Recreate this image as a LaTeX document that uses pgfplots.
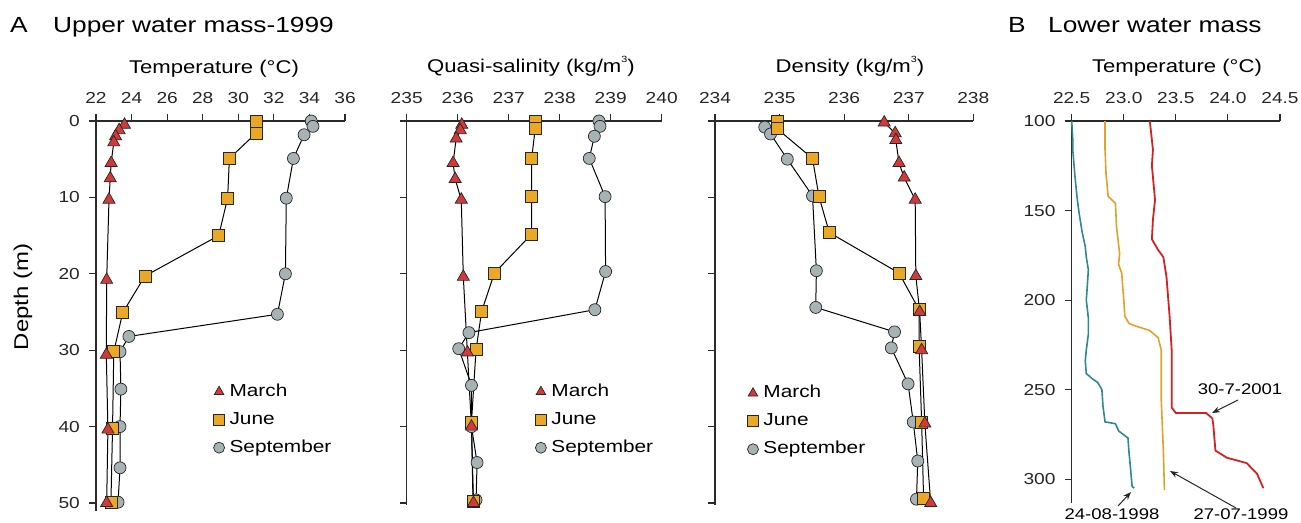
\documentclass[border=0pt]{standalone}
\usepackage{fontspec}
\setmainfont{Liberation Sans}[FakeStretch=1.2]
\usepackage{pgfplots}
\pgfplotsset{compat=1.18}
\usetikzlibrary{arrows.meta}
\definecolor{cMar}{HTML}{D03A3A}
\definecolor{cJun}{HTML}{EAA825}
\definecolor{cSep}{HTML}{A6B2B4}
\definecolor{cTeal}{HTML}{2E8A8C}
\definecolor{cOra}{HTML}{E2A12B}
\definecolor{cRed}{HTML}{D32222}
\definecolor{axcol}{HTML}{2A2A2A}
\newcommand{\tickfont}{\fontsize{16}{16}\selectfont}
\newcommand{\labfont}{\fontsize{18.5}{20}\selectfont}
\newcommand{\legfont}{\fontsize{17.4}{18}\selectfont}
\newcommand{\titfont}{\fontsize{22}{24}\selectfont}
\newcommand{\annfont}{\fontsize{15.5}{16}\selectfont}
\newcommand{\cube}{\raisebox{1.1ex}{\fontsize{9}{9}\selectfont 3}}

\pgfplotsset{
  prof/.style={
    scale only axis,
    anchor=north west,
    y dir=reverse,
    axis x line=top,
    axis y line=left,
    axis line style={-, line width=1.3bp, draw=axcol},
    x axis line style={-},
    y axis line style={-},
    tick style={line width=1.1bp, draw=axcol},
    tick align=outside,
    major tick length=7bp,
    enlargelimits=false,
    clip=false,
    /pgf/number format/assume math mode=true,
    tick label style={font=\tickfont, text=black!85},
    xticklabel style={inner sep=0pt, anchor=south},
    xticklabel shift=10bp,
    yticklabel style={inner sep=0pt, anchor=east},
    yticklabel shift=9bp,
    ytick={0,10,20,30,40,50},
    legend cell align=left,
    reverse legend,
    legend image code/.code={\draw[##1, only marks, mark size=5.5bp] plot coordinates {(0bp,0bp)};},
    legend style={draw=none, fill=none, font=\legfont, anchor=west,
      inner sep=0pt, row sep=9bp, column sep=4bp,
      nodes={inner sep=1bp, text height=13bp, text depth=4bp}},
  },
  pM/.style={black, line width=1bp, mark=triangle*, mark size=7bp,
    mark options={fill=cMar, draw=black!85, line width=0.7bp}},
  pJ/.style={black, line width=1bp, mark=square*, mark size=6bp,
    mark options={fill=cJun, draw=black!85, line width=0.7bp}},
  pS/.style={black, line width=1bp, mark=*, mark size=6bp,
    mark options={fill=cSep, draw=black!85, line width=0.7bp}},
}

\begin{document}
\begin{tikzpicture}
\path[use as bounding box] (0bp,0bp) rectangle (1301bp,523bp);

% ---------- Temperature ----------
\begin{axis}[prof, at={(96bp,402bp)}, width=249bp, height=389.6bp,
  xmin=22, xmax=36, ymin=0, ymax=51, xtick={22,24,...,36},
  legend style={at={(axis cs:28.6,39.1)}}]
\addplot[pS] coordinates {(34.1,0)(34.2,0.7)(33.7,1.8)(33.1,4.9)(32.7,10.1)(32.65,20)(32.2,25.3)(23.85,28.2)(23.35,30.2)(23.4,35.1)(23.35,40)(23.35,45.4)(23.24,49.9)};
\addlegendentry{September}
\addplot[pJ] coordinates {(31.0,0.1)(31.0,1.6)(29.5,4.9)(29.4,10.1)(28.9,15.0)(24.75,20.3)(23.5,25.1)(23.0,30.2)(22.93,40.2)(22.84,49.9)};
\addlegendentry{June}
\addplot[pM] coordinates {(23.6,0.5)(23.3,1.2)(23.1,2.0)(23.0,2.8)(22.85,5.5)(22.8,7.5)(22.73,10.3)(22.6,20.8)(22.58,30.6)(22.67,40.4)(22.6,50)};
\addlegendentry{March}
\end{axis}

% ---------- Quasi-salinity ----------
\begin{axis}[prof, at={(406.7bp,402bp)}, width=255bp, height=384.3bp,
  xmin=235, xmax=240, ymin=0, ymax=50.3, xtick={235,236,...,240}, yticklabels={},
  legend style={at={(axis cs:237.52,39.1)}}]
\addplot[pS] coordinates {(238.77,0)(238.79,0.7)(238.68,2)(238.58,4.9)(238.89,9.9)(238.9,19.7)(238.69,24.7)(236.22,27.7)(236.02,29.8)(236.27,34.6)(236.27,40)(236.38,44.7)(236.36,49.6)};
\addlegendentry{September}
\addplot[pJ] coordinates {(237.52,0)(237.52,1)(237.45,4.9)(237.45,9.9)(237.45,14.8)(236.72,19.9)(236.47,24.9)(236.36,29.9)(236.27,39.4)(236.3,49.8)};
\addlegendentry{June}
\addplot[pM] coordinates {(236.08,0.5)(236.05,1.2)(235.97,2.3)(235.91,5.5)(235.95,7.6)(236.07,10.3)(236.11,20.4)(236.19,30.3)(236.27,40)(236.31,50)};
\addlegendentry{March}
\end{axis}

% ---------- Density ----------
\begin{axis}[prof, at={(715bp,402bp)}, width=258.3bp, height=384.3bp,
  xmin=234, xmax=238, ymin=0, ymax=50.3, xtick={234,235,...,238}, yticklabels={},
  legend style={at={(axis cs:234.5,39.3)}}]
\addplot[pS] coordinates {(234.77,0.8)(234.86,1.7)(235.12,5)(235.51,9.8)(235.57,19.6)(235.56,24.4)(236.78,27.6)(236.73,29.7)(236.99,34.4)(237.07,39.4)(237.14,44.5)(237.12,49.5)};
\addlegendentry{September}
\addplot[pJ] coordinates {(234.96,0.1)(234.96,1)(235.51,4.9)(235.61,9.9)(235.77,14.6)(236.85,19.9)(237.16,24.7)(237.16,29.5)(237.2,39.4)(237.23,49.4)};
\addlegendentry{June}
\addplot[pM] coordinates {(236.62,0.2)(236.79,1.6)(236.8,2.5)(236.85,5.5)(236.93,7.4)(237.1,10.3)(237.11,20.3)(237.17,25)(237.2,30)(237.25,39.6)(237.34,50)};
\addlegendentry{March}
\end{axis}

% ---------- Panel B ----------
\begin{axis}[prof, at={(1071.7bp,402bp)}, width=208.3bp, height=381.5bp,
  xmin=22.5, xmax=24.5, ymin=100, ymax=313,
  xtick={22.5,23,23.5,24,24.5}, ytick={100,150,200,250,300},
  xticklabel style={/pgf/number format/.cd, fixed, fixed zerofill, precision=1}]
\addplot[cTeal, line width=1.6bp] coordinates {(22.5,100)(22.51,110)(22.51,116)(22.53,130)(22.55,142)(22.57,151)(22.6,162)(22.63,170)(22.64,176)(22.66,183)(22.65,192)(22.64,200)(22.66,210)(22.66,219)(22.64,228)(22.63,234)(22.64,241)(22.7,244)(22.75,246)(22.79,250)(22.8,259)(22.82,268)(22.92,269)(22.95,273)(23.04,277)(23.05,285)(23.06,291)(23.08,304)(23.1,305)};
\addplot[cOra, line width=1.6bp] coordinates {(22.82,100)(22.82,116)(22.83,130)(22.85,142)(22.92,146)(22.93,159)(22.96,174)(22.95,180)(22.98,185)(23.0,200)(23.01,209)(23.05,213)(23.09,214)(23.25,217)(23.33,221)(23.36,228)(23.36,256)(23.37,270)(23.38,284)(23.39,306)};
\addplot[cRed, line width=1.8bp] coordinates {(23.25,100)(23.28,116)(23.27,125)(23.3,144)(23.28,155)(23.27,166)(23.33,172)(23.38,176)(23.41,187)(23.44,209)(23.46,228)(23.46,260)(23.5,263)(23.79,263)(23.85,266)(23.86,270)(23.88,284)(23.99,288)(24.18,291)(24.28,297)(24.34,305)};
\end{axis}

% ---------- texts ----------
\node[font=\titfont, anchor=base west, inner sep=0pt] at (10bp,490bp) {A};
\node[font=\titfont, anchor=base west, inner sep=0pt] at (53bp,490bp) {Upper water mass-1999};
\node[font=\titfont, anchor=base west, inner sep=0pt] at (1008bp,490bp) {B};
\node[font=\titfont, anchor=base west, inner sep=0pt] at (1048bp,490bp) {Lower water mass};
\node[font=\labfont, anchor=base, inner sep=0pt] at (214bp,449bp) {Temperature (°C)};
\node[font=\labfont, anchor=base, inner sep=0pt] at (531bp,450bp) {Quasi-salinity (kg/m\cube)};
\node[font=\labfont, anchor=base, inner sep=0pt] at (850bp,450bp) {Density (kg/m\cube)};
\node[font=\labfont, anchor=base, inner sep=0pt] at (1177bp,450bp) {Temperature (°C)};
\node[font=\fontsize{20}{22}\selectfont, rotate=90, inner sep=0pt] at (23bp,226bp) {Depth (m)};
\node[font=\annfont, anchor=base, inner sep=0pt] at (1240bp,128bp) {30-7-2001};
\node[font=\annfont, anchor=base, inner sep=0pt] at (1241bp,4bp) {27-07-1999};
\node[font=\annfont, anchor=base, inner sep=0pt] at (1112bp,4bp) {24-08-1998};
\draw[-{Stealth[length=8bp,width=6bp]}, line width=1bp, black!85] (1238bp,123bp) -- (1212bp,110bp);
\draw[-{Stealth[length=8bp,width=6bp]}, line width=1bp, black!85] (1236bp,15bp) -- (1170bp,52bp);
\draw[-{Stealth[length=8bp,width=6bp]}, line width=1bp, black!85] (1118bp,17bp) -- (1131bp,31bp);
\end{tikzpicture}
\end{document}
